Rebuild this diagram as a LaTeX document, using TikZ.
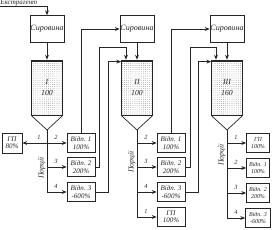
\documentclass[tikz,border=0pt]{standalone}
\usepackage{fontspec}
\setmainfont{Liberation Serif}
\usetikzlibrary{arrows.meta, patterns}

\tikzset{
  sirbox/.style={draw, fill=white, inner sep=0pt, minimum width=17mm, minimum height=13.5mm,
    font=\itshape\fontsize{11.5}{12}\selectfont},
  tank/.style={draw, pattern=dots, pattern color=black!55, inner sep=0pt,
    minimum width=15.5mm, minimum height=27.5mm, align=center,
    font=\itshape\fontsize{11}{15}\selectfont},
  outbox/.style={draw, fill=white, inner sep=0pt, minimum width=14mm, minimum height=9.5mm,
    align=center, font=\itshape\fontsize{10}{10.5}\selectfont},
  smallbox/.style={outbox, minimum width=11.5mm, font=\itshape\fontsize{8.5}{9.5}\selectfont},
  num/.style={inner sep=0pt, font=\itshape\fontsize{9}{10}\selectfont},
  lbl/.style={inner sep=0pt, font=\itshape\fontsize{11}{12}\selectfont}
}

\begin{document}
\begin{tikzpicture}[x=0.5mm, y=-0.5mm, line width=1pt, color=black!85,
    >={Stealth[length=2.4mm, width=1.9mm]}]
  \useasboundingbox (0,0) rectangle (279,230);

  % --- Stage I ---
  \node[lbl, anchor=south west, font=\itshape\fontsize{10}{11}\selectfont] (ext) at (0,6.5) {Екстрагент};
  \node[sirbox] (s1) at (47,29) {Сировина};
  \node[tank] (t1) at (47,87.5) {I\\100};
  \coordinate (c1) at (47,130);
  \draw (t1.south west) -- (c1) -- (t1.south east);
  \draw ([yshift=-1mm]t1.north west) -- ([yshift=-1mm]t1.north east);

  \node[outbox, minimum width=10mm, minimum height=10mm] (g1) at (12,143) {ГП\\80\%};
  \node[outbox] (v11) at (81,143) {Відп. 1\\100\%};
  \node[outbox] (v12) at (81,167) {Відп. 2\\200\%};
  \node[outbox] (v13) at (81,192) {Відп. 3\\-600\%};

  \draw[->] (ext.south west) -| (s1.north);
  \draw[->] (s1) -- (t1);
  \draw (c1) -- (c1 |- v13.west);
  \draw[->] (c1 |- g1.east) -- (g1.east);
  \draw[->] (c1 |- v11.west) -- (v11.west);
  \draw[->] (c1 |- v12.west) -- (v12.west);
  \draw[->] (c1 |- v13.west) -- (v13.west);

  \node[num] (n11) at (39,137) {1};
  \node[num] (n12) at (56,137) {2};
  \node[num] (n13) at (56,161) {3};
  \node[num] (n14) at (56,186) {4};
  \node[lbl, rotate=90] (p1) at (42,168) {Порції};

  % --- Stage II ---
  \node[sirbox] (s2) at (137,29) {Сировина};
  \node[tank] (t2) at (137,87.5) {II\\100};
  \coordinate (c2) at (137,130);
  \coordinate (in2) at ([xshift=-5.5mm]t2.north);
  \draw (t2.south west) -- (c2) -- (t2.south east);
  \draw ([yshift=-1mm]t2.north west) -- ([yshift=-1mm]t2.north east);

  \node[outbox] (v21) at (171,143) {Відп. 1\\100\%};
  \node[outbox] (v22) at (171,167) {Відп. 2\\200\%};
  \node[outbox] (v23) at (171,192) {Відп. 3\\-600\%};
  \node[outbox] (g2) at (171,217) {ГП\\100\%};

  \draw[->] (v11.north) |- (s2.west);
  \draw[->] (v12.east) -- ++(4,0) |- ([yshift=6mm]in2) -- (in2);
  \draw[->] (v13.east) -- ++(13,0) |- ([yshift=-1mm]t2.north west);
  \draw[->] (s2) -- (t2);
  \draw (c2) -- (c2 |- g2.west);
  \draw[->] (c2 |- v21.west) -- (v21.west);
  \draw[->] (c2 |- v22.west) -- (v22.west);
  \draw[->] (c2 |- v23.west) -- (v23.west);
  \draw[->] (c2 |- g2.west) -- (g2.west);

  \node[num] (n21) at (146,137) {2};
  \node[num] (n22) at (146,161) {3};
  \node[num] (n23) at (146,186) {4};
  \node[num] (n24) at (146,211) {1};
  \node[lbl, rotate=90] (p2) at (132,162) {Порції};

  % --- Stage III ---
  \node[sirbox] (s3) at (227,29) {Сировина};
  \node[tank] (t3) at (227,87.5) {III\\160};
  \coordinate (c3) at (227,130);
  \coordinate (in3) at ([xshift=-5.5mm]t3.north);
  \draw (t3.south west) -- (c3) -- (t3.south east);
  \draw ([yshift=-1mm]t3.north west) -- ([yshift=-1mm]t3.north east);

  \node[smallbox] (g3) at (258,143) {ГП\\100\%};
  \node[smallbox] (v31) at (258,168) {Відп. 1\\100\%};
  \node[smallbox] (v32) at (258,193) {Відп. 2\\200\%};
  \node[smallbox, minimum width=12.5mm] (v33) at (258,218) {Відп. 3\\-600\%};

  \draw[->] (v21.north) |- (s3.west);
  \draw[->] (v22.east) -- ++(5,0) |- ([yshift=6mm]in3) -- (in3);
  \draw[->] (v23.east) -- ++(13,0) |- ([yshift=-1mm]t3.north west);
  \draw[->] (s3) -- (t3);
  \draw (c3) -- (c3 |- v33.west);
  \draw[->] (c3 |- g3.west) -- (g3.west);
  \draw[->] (c3 |- v31.west) -- (v31.west);
  \draw[->] (c3 |- v32.west) -- (v32.west);
  \draw[->] (c3 |- v33.west) -- (v33.west);

  \node[num] (n31) at (236,137) {1};
  \node[num] (n32) at (236,162) {2};
  \node[num] (n33) at (236,187) {3};
  \node[num] (n34) at (236,212) {4};
  \node[lbl, rotate=90] (p3) at (222,155) {Порції};
\end{tikzpicture}
\end{document}
